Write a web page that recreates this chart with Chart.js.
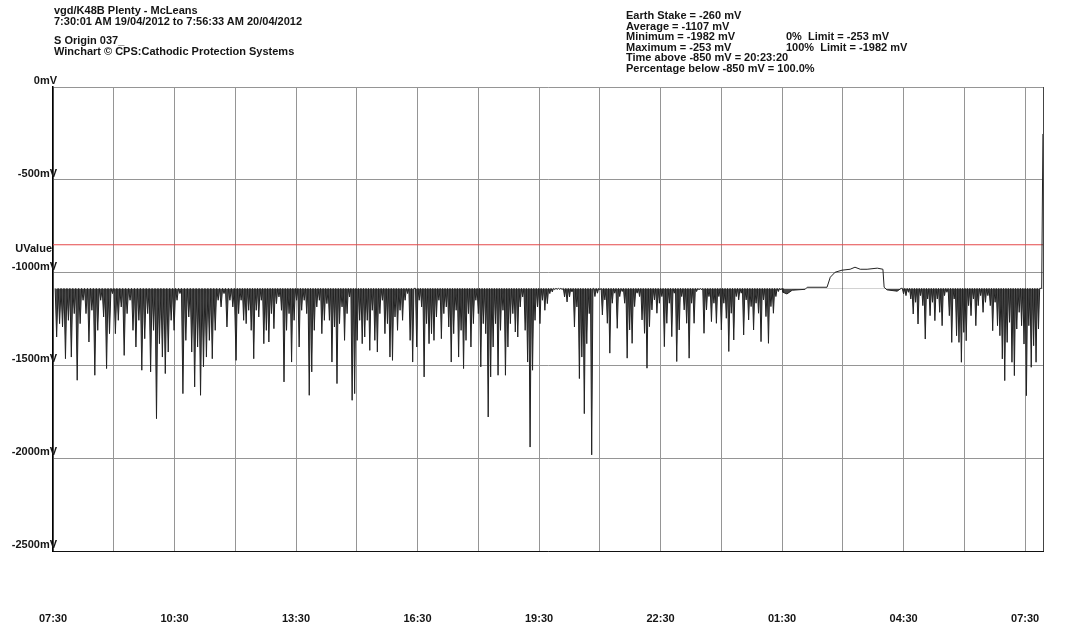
<!DOCTYPE html>
<html>
<head>
<meta charset="utf-8">
<script src="https://cdn.jsdelivr.net/npm/chart.js@4.4.1/dist/chart.umd.min.js"></script>
<style>
  body { margin: 0; background: #fff; }
  #wrap { position: relative; width: 1078px; height: 625px; }
  .hdr { position: absolute; font: bold 11px "Liberation Sans", Arial, sans-serif; line-height: 10.6px; color: #151515; white-space: pre; }
</style>
</head>
<body>
<div id="wrap">
  <canvas id="cpChart"></canvas>
  <div class="hdr" style="left:54px;top:5px">vgd/K48B Plenty - McLeans<br>7:30:01 AM 19/04/2012 to 7:56:33 AM 20/04/2012</div>
  <div class="hdr" style="left:54px;top:35px">S Origin 037_<br>Winchart © CPS:Cathodic Protection Systems</div>
  <div class="hdr" style="left:626px;top:10px">Earth Stake = -260 mV<br>Average = -1107 mV<br>Minimum = -1982 mV<br>Maximum = -253 mV<br>Time above -850 mV = 20:23:20<br>Percentage below -850 mV = 100.0%</div>
  <div class="hdr" style="left:786px;top:31px">0%  Limit = -253 mV<br>100%  Limit = -1982 mV</div>
  <div class="hdr" style="right:1026px;top:243px">UValue</div>
</div>
<script>
// Winchart CP logger trace, 07:30:01 19/04 to 07:56:33 20/04
// x is hours after 07:30, y is potential in mV

var RANGE_END = 24.4422;
var BASELINE = -1085;
var UVALUE = -850;

var timeLabels = ['07:30', '10:30', '13:30', '16:30', '19:30', '22:30', '01:30', '04:30', '07:30'];
var yTicks = [0, -500, -1000, -1500, -2000, -2500];

// spike minima, left to right, one list per stretch
var spikesA = [
  -1347, -1275, -1293, -1464, -1257, -1455, -1221, -1580, -1275, -1149,
  -1221, -1374, -1203, -1553, -1311, -1149, -1239, -1517, -1329, -1113,
  -1329, -1257, -1185, -1446, -1221, -1149, -1311, -1401, -1257, -1526,
  -1356, -1221, -1535, -1311, -1787, -1383, -1455, -1544, -1428, -1257,
  -1311, -1149, -1113, -1652, -1365, -1239, -1428, -1616, -1401, -1661,
  -1508, -1455, -1365, -1464, -1311, -1149, -1185, -1113, -1293, -1149,
  -1185
];
var spikesB = [
  -1473, -1221, -1149, -1257, -1275, -1203, -1311, -1464, -1203, -1239,
  -1149, -1383, -1311, -1374, -1221, -1302, -1167, -1131, -1203, -1589,
  -1311, -1221, -1482, -1257, -1149, -1401, -1203, -1149, -1221, -1661,
  -1535, -1311, -1185, -1149, -1329, -1257, -1167, -1257, -1482, -1293,
  -1598, -1275, -1185, -1365, -1221, -1131, -1688, -1652, -1365, -1257,
  -1383, -1347, -1257, -1419, -1203, -1365, -1428, -1221, -1149, -1329,
  -1275, -1455, -1473, -1239, -1311, -1203, -1257, -1149, -1113, -1365,
  -1482
];
var spikesC = [
  -1401, -1149, -1185, -1562, -1275, -1383, -1329, -1365, -1239, -1149,
  -1356, -1221, -1185, -1293, -1482, -1329, -1203, -1455, -1311, -1517,
  -1365, -1221, -1401, -1275, -1149, -1221, -1508, -1275, -1329, -1778,
  -1562, -1401, -1275, -1553, -1311, -1203, -1553, -1401, -1275, -1221,
  -1320, -1347, -1185, -1131, -1311, -1482, -1940, -1526, -1257, -1185,
  -1275, -1149, -1203, -1167, -1113, -1104, -1091, -1090, -1090, -1091,
  -1131, -1158, -1131, -1104, -1293, -1185, -1571, -1455, -1760, -1383,
  -1221, -1982
];
var spikesD = [
  -1129, -1111, -1093, -1228, -1147, -1273, -1434, -1165, -1111, -1300,
  -1129, -1102, -1165, -1461, -1309, -1381, -1183, -1111, -1129, -1255,
  -1327, -1515, -1291, -1201, -1147, -1219, -1165, -1129, -1399, -1273,
  -1165, -1345, -1111, -1479, -1309, -1129, -1201, -1273, -1461, -1165,
  -1273, -1102, -1093, -1093, -1327, -1201, -1129, -1264, -1165, -1273,
  -1129, -1309, -1165, -1246, -1425, -1219, -1363, -1129, -1147, -1111,
  -1336, -1147, -1255, -1183, -1309, -1165, -1219, -1372, -1147, -1237,
  -1381, -1183, -1219, -1129, -1102, -1093
];
var spikesE = [
  -1115, -1124, -1106, -1142, -1223, -1160, -1277, -1124, -1178, -1358,
  -1142, -1232, -1160, -1259, -1142, -1214, -1286, -1124, -1106, -1232,
  -1376, -1142, -1340, -1376, -1483, -1322, -1367, -1178, -1232, -1142,
  -1286, -1178, -1124, -1214, -1160, -1124, -1178, -1313, -1160, -1286,
  -1340, -1465, -1582, -1376, -1268, -1483, -1555, -1304, -1214, -1286,
  -1385, -1663, -1286, -1510, -1394, -1483, -1304
];
var stretchFrom = [0.09, 4.52, 8.98, 13.38, 21.0];
var stretchTo = [4.44, 8.88, 13.30, 17.97, 24.33];

// quiet spell around 01:30-04:30 (no spikes)
var quietHours = [18.02, 18.12, 18.25, 18.57, 18.62, 19.11, 19.19, 19.31, 19.48, 19.68,
  19.80, 19.93, 20.10, 20.35, 20.49, 20.52, 20.59, 20.84, 20.94];
var quietValues = [-1106, -1115, -1095, -1090, -1079, -1079, -1025, -998, -987, -982,
  -971, -982, -982, -976, -982, -1079, -1093, -1100, -1085];

// last readings before the logger was pulled
var endHours = [24.41, 24.44];
var endValues = [BASELINE, -253];

var gridHours = [];
for (var h = 0; h <= 24; h += 1.5) gridHours.push(h);

function addStretch(points, from, to, spikes) {
  var dt = (to - from) / (spikes.length - 1);
  spikes.forEach(function (v, i) {
    var t = from + i * dt;
    points.push({ x: t - dt / 2, y: BASELINE });
    points.push({ x: t, y: v });
  });
  points.push({ x: to + dt / 2, y: BASELINE });
}

var trace = [];
var allSpikes = [spikesA, spikesB, spikesC, spikesD];
for (var s = 0; s < 4; s++) addStretch(trace, stretchFrom[s], stretchTo[s], allSpikes[s]);
quietHours.forEach(function (t, i) { trace.push({ x: t, y: quietValues[i] }); });
addStretch(trace, stretchFrom[4], stretchTo[4], spikesE);
endHours.forEach(function (t, i) { trace.push({ x: t, y: endValues[i] }); });

var FONT = { family: '"Liberation Sans", Arial, sans-serif', size: 11, weight: 'bold' };

// right edge of the frame, plus the mV labels which sit over the axis line
var framePlugin = {
  id: 'frame',
  afterDraw: function (chart) {
    var a = chart.chartArea, ctx = chart.ctx, y = chart.scales.y;
    ctx.save();
    ctx.strokeStyle = '#444';
    ctx.lineWidth = 1;
    ctx.beginPath();
    ctx.moveTo(a.right + 0.5, a.top);
    ctx.lineTo(a.right + 0.5, a.bottom);
    ctx.stroke();

    ctx.fillStyle = '#151515';
    ctx.font = 'bold 11px "Liberation Sans", Arial, sans-serif';
    ctx.textAlign = 'right';
    ctx.textBaseline = 'middle';
    yTicks.forEach(function (v) {
      ctx.fillText(v + 'mV', a.left + 4, y.getPixelForValue(v) - 6);
    });
    ctx.restore();
  }
};

new Chart(document.getElementById('cpChart').getContext('2d'), {
  type: 'line',
  data: {
    datasets: [{
      data: trace,
      borderColor: '#222',
      borderWidth: 1,
      pointRadius: 0,
      tension: 0,
      fill: { target: { value: BASELINE }, above: 'rgba(0,0,0,0)', below: 'rgba(30,30,30,0.8)' }
    }, {
      data: [{ x: 0, y: UVALUE }, { x: RANGE_END, y: UVALUE }],
      borderColor: '#e5484a',
      borderWidth: 1.2,
      pointRadius: 0
    }]
  },
  options: {
    responsive: true,
    maintainAspectRatio: false,
    animation: false,
    layout: { padding: { left: 0, right: 35, top: 87, bottom: 0 } },
    plugins: {
      legend: { display: false },
      tooltip: { enabled: false }
    },
    scales: {
      x: {
        type: 'linear',
        min: 0,
        max: RANGE_END,
        afterBuildTicks: function (scale) {
          scale.ticks = gridHours.map(function (v) { return { value: v }; });
        },
        afterFit: function (scale) {
          scale.height = 74;
          scale.paddingLeft = 0;
          scale.paddingRight = 0;
        },
        grid: { color: '#959595', drawTicks: false },
        border: { color: '#111', width: 1 },
        ticks: {
          padding: 61,
          maxRotation: 0,
          autoSkip: false,
          color: '#151515',
          font: FONT,
          callback: function (v, i) { return i % 2 === 0 ? timeLabels[i / 2] : ''; }
        }
      },
      y: {
        min: -2500,
        max: 0,
        afterBuildTicks: function (scale) {
          scale.ticks = yTicks.map(function (v) { return { value: v }; });
        },
        afterFit: function (scale) {
          scale.width = 53;
          scale.paddingTop = 0;
          scale.paddingBottom = 0;
        },
        grid: { color: '#959595', drawTicks: false },
        border: { color: '#000', width: 1.5 },
        ticks: { display: false }
      }
    }
  },
  plugins: [framePlugin]
});
</script>
</body>
</html>
